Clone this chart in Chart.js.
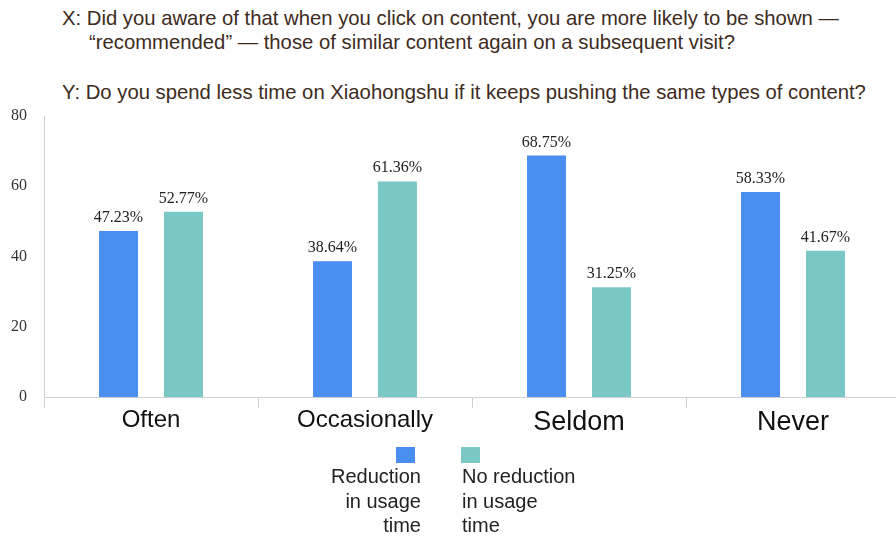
<!DOCTYPE html>
<html>
<head>
<meta charset="utf-8">
<script src="https://cdn.jsdelivr.net/npm/chart.js@4"></script>
<style>
    html, body { margin: 0; padding: 0; background: #fff; overflow: hidden; }
    body { width: 896px; height: 536px; position: relative; }
    .title {
        position: absolute; left: 62px; top: 7px;
        font-family: "Liberation Sans", Arial, sans-serif; font-size: 20.3px;
        color: #3d2b22; line-height: 23.5px; white-space: nowrap;
    }
    .title .indent { padding-left: 27px; }
    .title .gap { height: 27px; }
    .chart-box { position: absolute; left: 0; top: 0; width: 904px; height: 536px; }
    .legend-swatch { position: absolute; top: 447px; width: 19px; height: 16px; }
    .legend-text {
        position: absolute; top: 464px; width: 140px;
        font-family: "Liberation Sans", Arial, sans-serif; font-size: 20px;
        line-height: 24.5px; color: #222;
    }
</style>
</head>
<body>
<div class="title">
    <div>X: Did you aware of that when you click on content, you are more likely to be shown —</div>
    <div class="indent">“recommended” — those of similar content again on a subsequent visit?</div>
    <div class="gap"></div>
    <div>Y: Do you spend less time on Xiaohongshu if it keeps pushing the same types of content?</div>
</div>
<div class="chart-box"><canvas id="chart" width="904" height="536"></canvas></div>
<div id="legend"></div>

<script>
// categories and series (percent of respondents)
const categories = ['Often', 'Occasionally', 'Seldom', 'Never'];
const reductionValues = [47.23, 38.64, 68.75, 58.33];
const noReductionValues = [52.77, 61.36, 31.25, 41.67];
const seriesLabels = [['Reduction', 'in usage', 'time'], ['No reduction', 'in usage', 'time']];
const seriesColors = ['#4a8ef0', '#79c8c6'];
const yTicks = [0, 20, 40, 60, 80];

// percent labels above each bar
const valueLabels = {
    id: 'valueLabels',
    afterDatasetsDraw(chart) {
        const ctx = chart.ctx;
        ctx.save();
        ctx.font = '16px "Liberation Serif", "Times New Roman", serif';
        ctx.fillStyle = '#222';
        ctx.textAlign = 'center';
        ctx.textBaseline = 'alphabetic';
        chart.data.datasets.forEach((ds, i) => {
            chart.getDatasetMeta(i).data.forEach((bar, j) => {
                ctx.fillText(ds.data[j].toFixed(2) + '%', bar.x, bar.y - 9);
            });
        });
        ctx.restore();
    }
};

new Chart(document.getElementById('chart'), {
    type: 'bar',
    data: {
        labels: categories,
        datasets: [
            { label: seriesLabels[0].join(' '), data: reductionValues, backgroundColor: seriesColors[0] },
            { label: seriesLabels[1].join(' '), data: noReductionValues, backgroundColor: seriesColors[1] }
        ]
    },
    options: {
        responsive: false,
        animation: false,
        layout: { padding: { top: 116, right: 4, bottom: 99, left: 0 } },
        datasets: { bar: { categoryPercentage: 0.607, barPercentage: 0.6 } },
        plugins: { legend: { display: false }, title: { display: false }, tooltip: { enabled: false } },
        scales: {
            x: {
                grid: { display: true, drawOnChartArea: false, tickLength: 11, color: '#d0d0d0', offset: true },
                border: { color: '#d0d0d0' },
                ticks: {
                    // the last two labels are set a little larger
                    font: c => ({ family: '"Liberation Sans", Arial, sans-serif', size: c.index >= 2 ? 27 : 24 }),
                    color: '#111',
                    padding: -2
                },
                afterFit(scale) { scale.height = 40; }
            },
            y: {
                min: 0, max: 80,
                afterBuildTicks(scale) { scale.ticks = yTicks.map(v => ({ value: v })); },
                grid: { display: false, drawTicks: false },
                border: { display: true, color: '#d0d0d0' },
                ticks: { font: { family: '"Liberation Serif", "Times New Roman", serif', size: 16 }, color: '#333', padding: 17 },
                afterFit(scale) { scale.width = 44; }
            }
        }
    },
    plugins: [valueLabels]
});

// legend under the chart: swatch on top, wrapped label below
const legend = document.getElementById('legend');
const swatchLeft = [396, 461];
seriesLabels.forEach((lines, i) => {
    const sw = document.createElement('div');
    sw.className = 'legend-swatch';
    sw.style.left = swatchLeft[i] + 'px';
    sw.style.background = seriesColors[i];
    legend.appendChild(sw);

    const txt = document.createElement('div');
    txt.className = 'legend-text';
    if (i === 0) { txt.style.left = (421 - 140) + 'px'; txt.style.textAlign = 'right'; }
    else { txt.style.left = '462px'; txt.style.textAlign = 'left'; }
    txt.innerHTML = lines.join('<br>');
    legend.appendChild(txt);
});
</script>
</body>
</html>
